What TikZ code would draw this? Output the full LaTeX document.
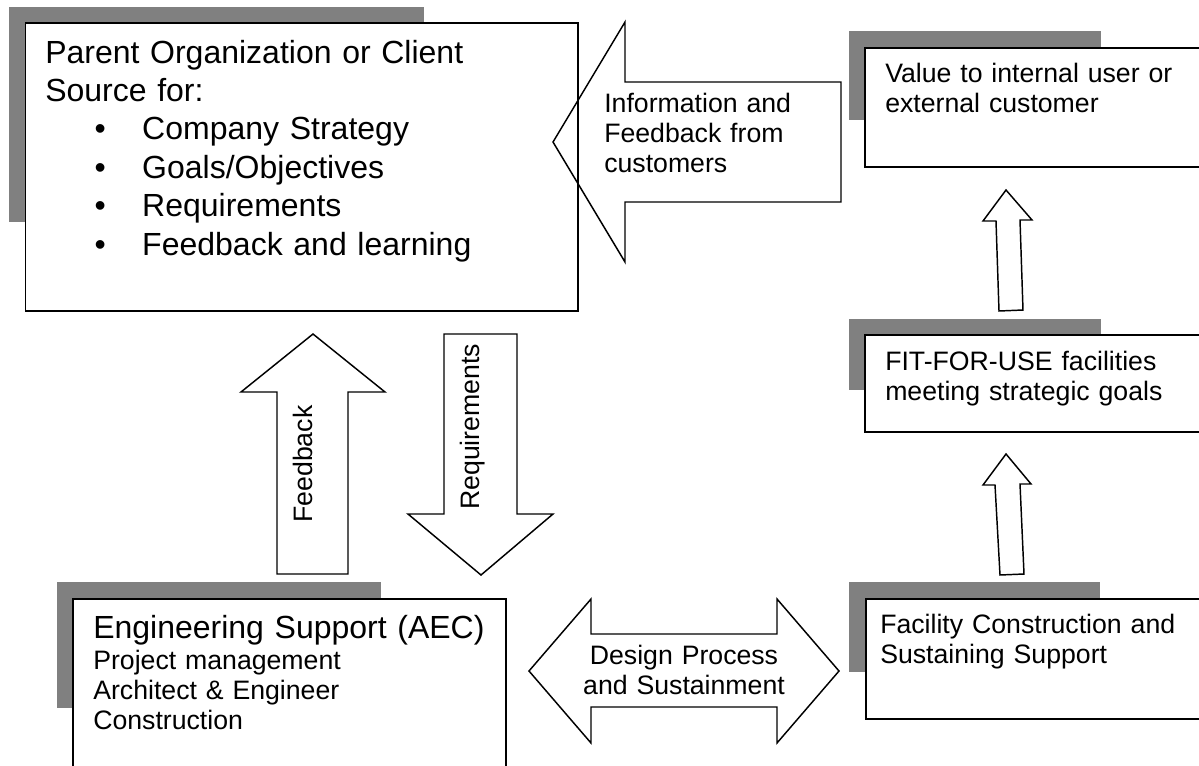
\documentclass[tikz,border=0pt]{standalone}
\usepackage{fontspec}
\setmainfont{Liberation Sans}
\tikzset{
  shadowfill/.style={fill=black!50, draw=none},
  box/.style={draw=black, fill=white, line width=1.2pt, inner sep=0pt, anchor=north west},
  blockarrow/.style={draw=black, line width=1.1pt, line join=miter},
  bigtext/.style={font=\fontsize{24}{28.8}\selectfont, inner sep=0pt, align=left, text width=420pt, anchor=base west},
  smalltext/.style={font=\fontsize{20}{22.5}\selectfont, inner sep=0pt, align=left, text width=260pt, anchor=base west},
}
\begin{document}
\begin{tikzpicture}[x=0.75pt,y=-0.75pt]
\useasboundingbox (0,0) rectangle (1199,765);
\clip (0,0) rectangle (1199,765);
% shadows
\fill[shadowfill] (9,7) rectangle (424,222);
\fill[shadowfill] (849,31) rectangle (1101,120);
\fill[shadowfill] (849,319) rectangle (1101,390);
\fill[shadowfill] (849,582) rectangle (1100,672);
\fill[shadowfill] (57,582) rectangle (381,708);
% boxes
\node[box, minimum width=414.4pt, minimum height=216pt] (parent) at (24.5,22) {};
\node[box, minimum width=300pt, minimum height=89.25pt] (value) at (864,47) {};
\node[box, minimum width=300pt, minimum height=72.75pt] (fit) at (864,334) {};
\node[box, minimum width=300pt, minimum height=90pt] (facility) at (865,598) {};
\node[box, minimum width=324.75pt, minimum height=144pt] (eng) at (72,598) {};
% block arrows
\draw[blockarrow] (553,142) -- (625,22) -- (625,82) -- (841,82) -- (841,202) -- (625,202) -- (625,262) -- cycle;
\draw[blockarrow] (313,334) -- (385,392) -- (348,392) -- (348,574) -- (277,574) -- (277,392) -- (241,392) -- cycle;
\draw[blockarrow] (444,334) -- (517,334) -- (517,514) -- (553,514) -- (481,575) -- (408,514) -- (444,514) -- cycle;
\draw[blockarrow] (529,671) -- (591,599) -- (591,634) -- (777,634) -- (777,599) -- (839,671) -- (777,743) -- (777,707) -- (591,707) -- (591,743) -- cycle;
\draw[blockarrow] (1006,190) -- (1032,220) -- (1020,220) -- (1023,310) -- (999,311) -- (996,221) -- (983,221) -- cycle;
\draw[blockarrow] (1006,454) -- (1031,484) -- (1020,484) -- (1024,574) -- (1000,575) -- (995,485) -- (983,485) -- cycle;
% texts
\node[bigtext] (ptext) at (45,63) {Parent Organization or Client\\Source for:\\
\hspace*{37pt}\makebox[35.75pt][l]{\textbullet}Company Strategy\\
\hspace*{37pt}\makebox[35.75pt][l]{\textbullet}Goals/Objectives\\
\hspace*{37pt}\makebox[35.75pt][l]{\textbullet}Requirements\\
\hspace*{37pt}\makebox[35.75pt][l]{\textbullet}Feedback and learning};
\node[smalltext] (itext) at (604,112) {Information and\\Feedback from\\customers};
\node[smalltext] (vtext) at (885,82) {Value to internal user or\\external customer};
\node[smalltext] (ftext) at (885,370) {FIT-FOR-USE facilities\\meeting strategic goals};
\node[smalltext] (fctext) at (880,633) {Facility Construction and\\Sustaining Support};
\node[smalltext, align=center, text width=200pt, anchor=base] (dtext) at (684,664) {Design Process\\and Sustainment};
\node[bigtext] (etitle) at (93,638) {Engineering Support (AEC)};
\node[smalltext] (etext) at (93,669) {Project management\\Architect \& Engineer\\Construction};
\node[font=\fontsize{20}{22.5}\selectfont, inner sep=0pt, rotate=90, anchor=base west] (fbtext) at (312,523) {Feedback};
\node[font=\fontsize{20}{22.5}\selectfont, inner sep=0pt, rotate=90, anchor=base west] (rqtext) at (479,510) {Requirements};
\end{tikzpicture}
\end{document}
